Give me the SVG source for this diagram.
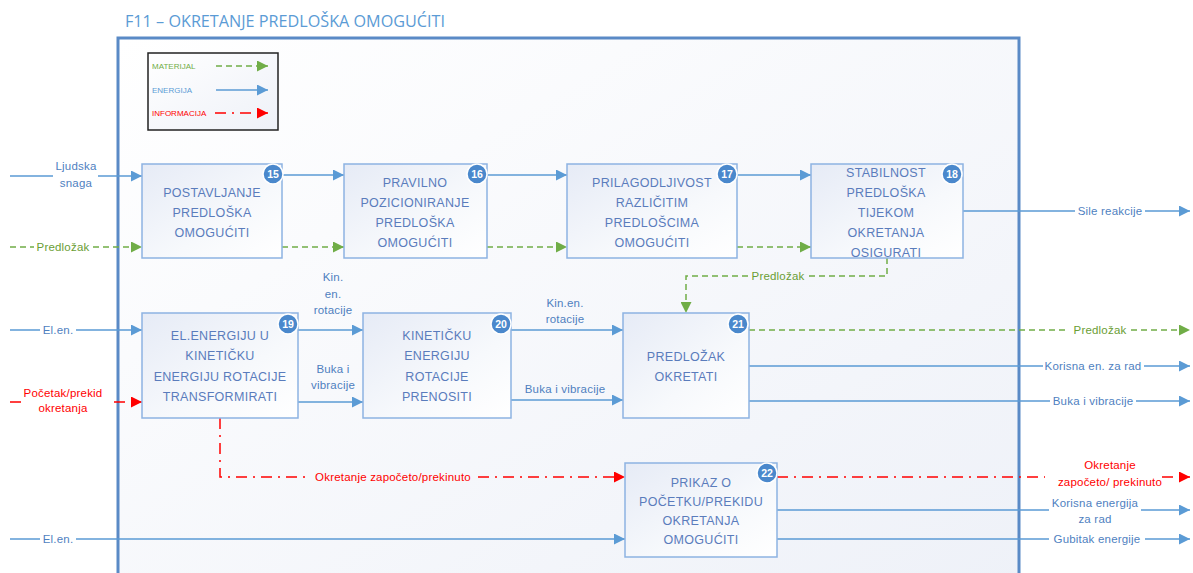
<svg xmlns="http://www.w3.org/2000/svg" width="1193" height="573" viewBox="0 0 1193 573">
<defs>
<linearGradient id="frameBg" x1="0" y1="0" x2="1" y2="1">
<stop offset="0" stop-color="#ffffff"/>
<stop offset="1" stop-color="#eef1f8"/>
</linearGradient>
<linearGradient id="nodeBg" x1="0" y1="0" x2="1" y2="1">
<stop offset="0" stop-color="#e6ebf6"/>
<stop offset="0.6" stop-color="#f7f9fc"/>
<stop offset="1" stop-color="#ffffff"/>
</linearGradient>
<linearGradient id="legBg" x1="0" y1="0" x2="1" y2="1">
<stop offset="0" stop-color="#ffffff"/>
<stop offset="1" stop-color="#eef1f8"/>
</linearGradient>
<marker id="aB" markerUnits="userSpaceOnUse" markerWidth="11" markerHeight="11" refX="11" refY="5.5" orient="auto"><path d="M0,0 L11,5.5 L0,11 z" fill="#5b9bd5"/></marker>
<marker id="aG" markerUnits="userSpaceOnUse" markerWidth="11" markerHeight="11" refX="11" refY="5.5" orient="auto"><path d="M0,0 L11,5.5 L0,11 z" fill="#70ad47"/></marker>
<marker id="aR" markerUnits="userSpaceOnUse" markerWidth="11" markerHeight="11" refX="11" refY="5.5" orient="auto"><path d="M0,0 L11,5.5 L0,11 z" fill="#ff0000"/></marker>
<style>
.nb{fill:url(#nodeBg);stroke:#8db3e2;stroke-width:1.5}
.nt{font-family:"Liberation Sans",Arial,sans-serif;font-size:12.5px;fill:#5a7cbc;text-anchor:middle;letter-spacing:0.3px}
.bc{fill:#4a88cc;stroke:#ffffff;stroke-width:1.5}
.bt{font-family:"Liberation Sans",Arial,sans-serif;font-size:10.5px;font-weight:bold;fill:#ffffff;text-anchor:middle}
.e{fill:none;stroke:#5b9bd5;stroke-width:1.5}
.m{fill:none;stroke:#70ad47;stroke-width:1.5;stroke-dasharray:6 4}
.i{fill:none;stroke:#ff0000;stroke-width:1.5;stroke-dasharray:11 6 2 6}
.lb{font-family:"Liberation Sans",Arial,sans-serif;font-size:11.5px;letter-spacing:0.2px;fill:#4f7fbf;text-anchor:middle}
.lg{font-family:"Liberation Sans",Arial,sans-serif;font-size:11.5px;letter-spacing:0.2px;fill:#6a9e34;text-anchor:middle}
.lr{font-family:"Liberation Sans",Arial,sans-serif;font-size:11.5px;letter-spacing:0.2px;fill:#ff0000;text-anchor:middle}
</style>
</defs>
<rect width="1193" height="573" fill="#ffffff"/>
<text x="125" y="27" font-family="'Open Sans','Liberation Sans',sans-serif" font-size="16" fill="#5b9bd5" textLength="320" lengthAdjust="spacingAndGlyphs">F11 – OKRETANJE PREDLOŠKA OMOGUĆITI</text>
<rect id="frame" x="118" y="38" width="901" height="560" fill="url(#frameBg)" stroke="#5a8ac6" stroke-width="3"/>

<g id="legend">
<rect x="148" y="53" width="130" height="77" fill="url(#legBg)" stroke="#222222" stroke-width="1.5"/>
<text x="152" y="69" font-family="'Liberation Sans',Arial,sans-serif" font-size="8" fill="#70ad47">MATERIJAL</text>
<text x="152" y="93" font-family="'Liberation Sans',Arial,sans-serif" font-size="8" fill="#5b9bd5">ENERGIJA</text>
<text x="152" y="116" font-family="'Liberation Sans',Arial,sans-serif" font-size="8" fill="#ff0000">INFORMACIJA</text>
<path d="M216,66 H268" class="m" marker-end="url(#aG)"/>
<path d="M216,90 H268" class="e" marker-end="url(#aB)"/>
<path d="M215,113 H268" class="i" marker-end="url(#aR)"/>
</g>

<g id="connectors">
<path d="M10,176 H53 M98,176 H142" class="e" marker-end="url(#aB)"/>
<path d="M282,175 H344" class="e" marker-end="url(#aB)"/>
<path d="M487,175 H567" class="e" marker-end="url(#aB)"/>
<path d="M737,175 H811" class="e" marker-end="url(#aB)"/>
<path d="M963,211 H1075 M1145,211 H1190" class="e" marker-end="url(#aB)"/>
<path d="M10,330 H40 M76,330 H142" class="e" marker-end="url(#aB)"/>
<path d="M298,330 H363" class="e" marker-end="url(#aB)"/>
<path d="M298,402 H363" class="e" marker-end="url(#aB)"/>
<path d="M511,330 H623" class="e" marker-end="url(#aB)"/>
<path d="M511,400 H623" class="e" marker-end="url(#aB)"/>
<path d="M749,366 H1043 M1144,366 H1190" class="e" marker-end="url(#aB)"/>
<path d="M749,401 H1050 M1136,401 H1190" class="e" marker-end="url(#aB)"/>
<path d="M10,539 H40 M76,539 H625" class="e" marker-end="url(#aB)"/>
<path d="M777,510 H1049 M1141,510 H1190" class="e" marker-end="url(#aB)"/>
<path d="M777,539 H1049 M1145,539 H1190" class="e" marker-end="url(#aB)"/>
<path d="M10,247 H34 M93,247 H142" class="m" marker-end="url(#aG)"/>
<path d="M282,247 H344" class="m" marker-end="url(#aG)"/>
<path d="M487,247 H567" class="m" marker-end="url(#aG)"/>
<path d="M737,247 H811" class="m" marker-end="url(#aG)"/>
<path d="M887,258 V276 H808 M748,276 H686 V313" class="m" marker-end="url(#aG)"/>
<path d="M749,330 H1069 M1131,330 H1190" class="m" marker-end="url(#aG)"/>
<path d="M10,402 H23 M114,402 H142" class="i" marker-end="url(#aR)"/>
<path d="M220,418 V477 H308 M478,477 H625" class="i" marker-end="url(#aR)"/>
<path d="M777,477 H1045 M1162,477 H1190" class="i" marker-end="url(#aR)"/>
</g>

<g id="labels">
<text x="76" y="170" class="lb">Ljudska</text>
<text x="76" y="187" class="lb">snaga</text>
<text x="63" y="251" class="lg">Predložak</text>
<text x="1110" y="215" class="lb">Sile reakcije</text>
<text x="778" y="280" class="lg">Predložak</text>
<text x="58" y="334" class="lb">El.en.</text>
<text x="63" y="397" class="lr">Početak/prekid</text>
<text x="63" y="412" class="lr">okretanja</text>
<text x="333" y="281" class="lb">Kin.</text>
<text x="333" y="298" class="lb">en.</text>
<text x="333" y="314" class="lb">rotacije</text>
<text x="333" y="373" class="lb">Buka i</text>
<text x="333" y="389" class="lb">vibracije</text>
<text x="565" y="307" class="lb">Kin.en.</text>
<text x="565" y="323" class="lb">rotacije</text>
<text x="565" y="393" class="lb">Buka i vibracije</text>
<text x="1100" y="334" class="lg">Predložak</text>
<text x="1093" y="370" class="lb">Korisna en. za rad</text>
<text x="1093" y="405" class="lb">Buka i vibracije</text>
<text x="393" y="481" class="lr">Okretanje započeto/prekinuto</text>
<text x="1110" y="469" class="lr">Okretanje</text>
<text x="1110" y="486" class="lr">započeto/ prekinuto</text>
<text x="1095" y="507" class="lb">Korisna energija</text>
<text x="1095" y="523" class="lb">za rad</text>
<text x="58" y="543" class="lb">El.en.</text>
<text x="1097" y="543" class="lb">Gubitak energije</text>
</g>

<g id="n15">
<rect x="142" y="164" width="140" height="94" class="nb"/>
<text x="212" y="196.5" class="nt">POSTAVLJANJE</text>
<text x="212" y="216.5" class="nt">PREDLOŠKA</text>
<text x="212" y="236.5" class="nt">OMOGUĆITI</text>
<circle cx="273" cy="174" r="10" class="bc"/><text x="273" y="178" class="bt">15</text>
</g>
<g id="n16">
<rect x="344" y="164" width="143" height="94" class="nb"/>
<text x="415" y="186.5" class="nt">PRAVILNO</text>
<text x="415" y="206.5" class="nt">POZICIONIRANJE</text>
<text x="415" y="226.5" class="nt">PREDLOŠKA</text>
<text x="415" y="246.5" class="nt">OMOGUĆITI</text>
<circle cx="477" cy="174" r="10" class="bc"/><text x="477" y="178" class="bt">16</text>
</g>
<g id="n17">
<rect x="567" y="164" width="170" height="94" class="nb"/>
<text x="652" y="186.5" class="nt">PRILAGODLJIVOST</text>
<text x="652" y="206.5" class="nt">RAZLIČITIM</text>
<text x="652" y="226.5" class="nt">PREDLOŠCIMA</text>
<text x="652" y="246.5" class="nt">OMOGUĆITI</text>
<circle cx="727" cy="174" r="10" class="bc"/><text x="727" y="178" class="bt">17</text>
</g>
<g id="n18">
<rect x="811" y="164" width="152" height="94" class="nb"/>
<text x="886" y="176.5" class="nt">STABILNOST</text>
<text x="886" y="196.5" class="nt">PREDLOŠKA</text>
<text x="886" y="216.5" class="nt">TIJEKOM</text>
<text x="886" y="236.5" class="nt">OKRETANJA</text>
<text x="886" y="256.5" class="nt">OSIGURATI</text>
<circle cx="952" cy="174" r="10" class="bc"/><text x="952" y="178" class="bt">18</text>
</g>
<g id="n19">
<rect x="142" y="313" width="156" height="105" class="nb"/>
<text x="220" y="339.5" class="nt">EL.ENERGIJU U</text>
<text x="220" y="360" class="nt">KINETIČKU</text>
<text x="220" y="380.5" class="nt">ENERGIJU ROTACIJE</text>
<text x="220" y="401" class="nt">TRANSFORMIRATI</text>
<circle cx="288" cy="324" r="10" class="bc"/><text x="288" y="328" class="bt">19</text>
</g>
<g id="n20">
<rect x="363" y="313" width="148" height="105" class="nb"/>
<text x="437" y="339.5" class="nt">KINETIČKU</text>
<text x="437" y="360" class="nt">ENERGIJU</text>
<text x="437" y="380.5" class="nt">ROTACIJE</text>
<text x="437" y="401" class="nt">PRENOSITI</text>
<circle cx="501" cy="324" r="10" class="bc"/><text x="501" y="328" class="bt">20</text>
</g>
<g id="n21">
<rect x="623" y="313" width="126" height="105" class="nb"/>
<text x="686" y="360.5" class="nt">PREDLOŽAK</text>
<text x="686" y="380.5" class="nt">OKRETATI</text>
<circle cx="738" cy="324" r="10" class="bc"/><text x="738" y="328" class="bt">21</text>
</g>
<g id="n22">
<rect x="625" y="463" width="152" height="94" class="nb"/>
<text x="701" y="486.5" class="nt">PRIKAZ O</text>
<text x="701" y="505.5" class="nt">POČETKU/PREKIDU</text>
<text x="701" y="524.5" class="nt">OKRETANJA</text>
<text x="701" y="543.5" class="nt">OMOGUĆITI</text>
<circle cx="767" cy="473" r="10" class="bc"/><text x="767" y="477" class="bt">22</text>
</g>
</svg>
